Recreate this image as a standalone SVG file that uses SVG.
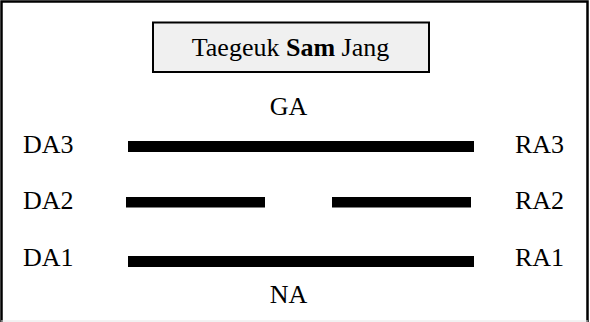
<svg xmlns="http://www.w3.org/2000/svg" width="590" height="322" viewBox="0 0 590 322">
  <style>
    .lbl { font-family: "Liberation Serif", "Times New Roman", serif; font-size: 26px; fill: #000; }
    .bar { fill: #000; }
  </style>
  <rect width="590" height="322" fill="#fff"/>
  <!-- outer frame -->
  <g id="frame">
    <path d="M1.5,322 V1.5 H587.5 V322" fill="none" stroke="#000" stroke-width="2.5"/>
    <line x1="1" y1="321" x2="588" y2="321" stroke="#e4e4e4" stroke-width="1"/>
  </g>
  <!-- title -->
  <g id="title">
    <rect x="153" y="22.5" width="276" height="49.5" fill="#f0f0f0" stroke="#000" stroke-width="2"/>
    <text class="lbl" x="290.5" y="56" text-anchor="middle">Taegeuk <tspan font-weight="bold">Sam</tspan> Jang</text>
  </g>
  <g id="ga"><text class="lbl" x="288.5" y="115" text-anchor="middle">GA</text></g>
  <g id="na"><text class="lbl" x="288.5" y="303" text-anchor="middle">NA</text></g>
  <g id="da3"><text class="lbl" x="23" y="153">DA3</text></g>
  <g id="da2"><text class="lbl" x="23" y="209">DA2</text></g>
  <g id="da1"><text class="lbl" x="23" y="266">DA1</text></g>
  <g id="ra3"><text class="lbl" x="515" y="153">RA3</text></g>
  <g id="ra2"><text class="lbl" x="515" y="209">RA2</text></g>
  <g id="ra1"><text class="lbl" x="515" y="266">RA1</text></g>
  <!-- trigram lines -->
  <g id="lines">
    <rect class="bar" x="128" y="141" width="346" height="11"/>
    <rect class="bar" x="126" y="197" width="139" height="10.5"/>
    <rect class="bar" x="332" y="197" width="139" height="10.5"/>
    <rect class="bar" x="128" y="256" width="346" height="11"/>
  </g>
</svg>
